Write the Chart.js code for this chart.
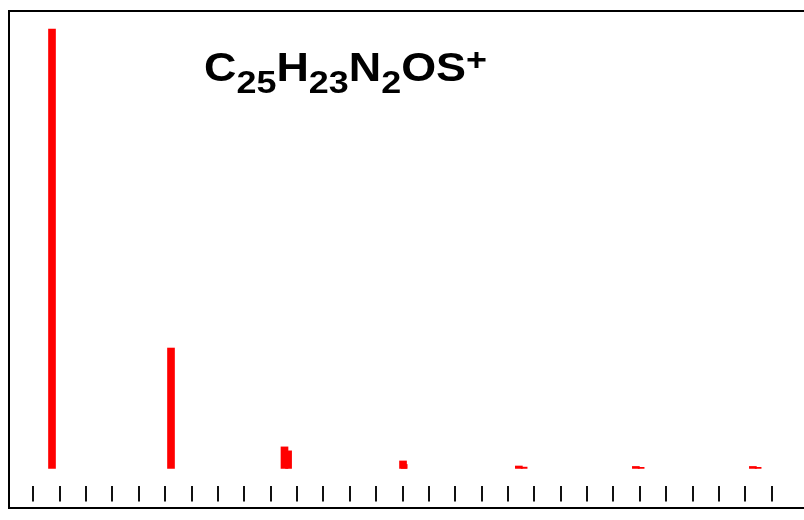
<!DOCTYPE html>
<html>
<head>
<meta charset="utf-8">
<script src="https://cdn.jsdelivr.net/npm/chart.js@4"></script>
<style>
  html, body { margin: 0; padding: 0; background: #fff; }
  #wrap { width: 804px; height: 520px; }
</style>
</head>
<body>
<div id="wrap"><canvas id="chart" width="804" height="520"></canvas></div>
<script>
// isotope pattern, m/z vs relative intensity
const peakMz = [399.150, 400.167, 401.137, 402.150, 403.140, 404.140, 405.140];
const peakInt = [100, 27.4, 4.9, 1.7, 0.55, 0.45, 0.45];
const shoulderMz = [401.172, 402.160, 403.185, 404.185, 405.185];
const shoulderInt = [4.0, 0.9, 0.3, 0.25, 0.25];

// minor tick marks along the m/z axis
const tickStart = 398.990;
const tickStep = 0.2254;
const tickCount = 29;

const formula = [
    { t: 'C', k: 'n' }, { t: '25', k: 'sub' },
    { t: 'H', k: 'n' }, { t: '23', k: 'sub' },
    { t: 'N', k: 'n' }, { t: '2', k: 'sub' },
    { t: 'OS', k: 'n' }, { t: '+', k: 'sup' }
];

const tickValues = [];
for (let i = 0; i < tickCount; i++) tickValues.push(tickStart + i * tickStep);

const framePlugin = {
    id: 'frame',
    afterDatasetsDraw(chart) {
        const c = chart.ctx;
        const a = chart.chartArea;
        const x = chart.scales.x;
        const y = chart.scales.y;
        c.save();
        c.strokeStyle = '#000';
        c.lineWidth = 2;
        c.beginPath();
        c.moveTo(a.right, a.top - 1);
        c.lineTo(a.left - 1, a.top - 1);
        c.lineTo(a.left - 1, a.bottom + 1);
        c.lineTo(a.right, a.bottom + 1);
        c.stroke();

        const y0 = y.getPixelForValue(-4.0);
        const y1 = y.getPixelForValue(-7.5);
        c.lineWidth = 2;
        c.strokeStyle = '#111';
        tickValues.forEach(v => {
            const px = Math.round(x.getPixelForValue(v));
            c.beginPath();
            c.moveTo(px, y0);
            c.lineTo(px, y1);
            c.stroke();
        });

        // formula label
        const big = 'bold 40px "Liberation Sans", Arial, sans-serif';
        const small = 'bold 32px "Liberation Sans", Arial, sans-serif';
        let total = 0;
        formula.forEach(p => {
            c.font = p.k === 'n' ? big : small;
            p.w = c.measureText(p.t).width;
            total += p.w;
        });
        const left = 204, right = 487, base = 81;
        const sx = (right - left) / total;
        c.translate(left, 0);
        c.scale(sx, 1);
        c.fillStyle = '#000';
        c.textBaseline = 'alphabetic';
        let cx = 0;
        formula.forEach(p => {
            c.font = p.k === 'n' ? big : small;
            let by = base;
            if (p.k === 'sub') by = base + 12;
            if (p.k === 'sup') by = base - 11;
            c.fillText(p.t, cx, by);
            cx += p.w;
        });
        c.restore();
    }
};

new Chart(document.getElementById('chart'), {
    type: 'bar',
    data: {
        datasets: [
            {
                data: peakMz.map((m, i) => ({ x: m, y: peakInt[i] })),
                backgroundColor: '#ff0000',
                barThickness: 7,
                grouped: false
            },
            {
                data: shoulderMz.map((m, i) => ({ x: m, y: shoulderInt[i] })),
                backgroundColor: '#ff0000',
                barThickness: 6,
                grouped: false
            }
        ]
    },
    options: {
        responsive: false,
        animation: false,
        layout: { padding: { left: 10, top: 12, right: 0, bottom: 13 } },
        plugins: { legend: { display: false }, tooltip: { enabled: false } },
        scales: {
            x: {
                type: 'linear',
                min: 398.791,
                max: 405.577,
                offset: false,
                display: false
            },
            y: {
                min: -8.78,
                max: 103.88,
                display: false
            }
        }
    },
    plugins: [framePlugin]
});
</script>
</body>
</html>
